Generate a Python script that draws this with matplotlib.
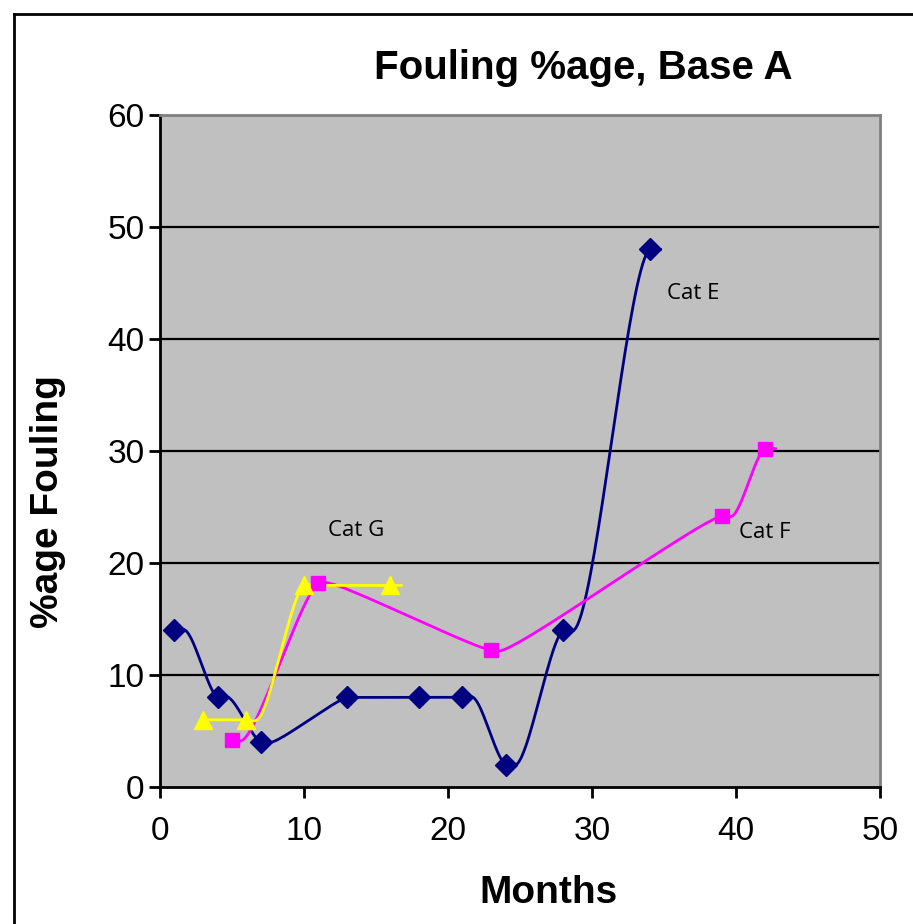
import numpy as np
import matplotlib
matplotlib.use("Agg")
import matplotlib.pyplot as plt
from matplotlib.lines import Line2D

# ---- data ----
cat_e_x = [1, 4, 7, 13, 18, 21, 24, 28, 34]
cat_e_y = [14, 8, 4, 8, 8, 8, 2, 14, 48]
cat_f_x = [5, 11, 23, 39, 42]
cat_f_y = [4.2, 18.2, 12.2, 24.2, 30.2]
cat_g_x = [3, 6, 10, 16]
cat_g_y = [6, 6, 18, 18]

title = "Fouling %age, Base A"
xlabel = "Months"
ylabel = "%age Fouling"
xticks = [0, 10, 20, 30, 40, 50]
yticks = [0, 10, 20, 30, 40, 50, 60]

LINE_OFFSET = 0.75  # line nodes duplicated slightly to the right (as in the original)

W, H = 913, 924
XS, YS = 720 / 50, 672 / 60  # pixels per unit, for isotropic parameterisation


def smooth(xs, ys, n=40):
    nx, ny = [], []
    for x, y in zip(xs, ys):
        nx += [x, x + LINE_OFFSET]
        ny += [y, y]
    P = np.column_stack([np.array(nx) * XS, np.array(ny) * YS]).astype(float)
    P = np.vstack([2 * P[0] - P[1], P, 2 * P[-1] - P[-2]])
    out = []
    for i in range(1, len(P) - 2):
        p0, p1, p2, p3 = P[i - 1], P[i], P[i + 1], P[i + 2]
        a = 0.5
        t0 = 0.0
        t1 = t0 + max(np.linalg.norm(p1 - p0), 1e-6) ** a
        t2 = t1 + max(np.linalg.norm(p2 - p1), 1e-6) ** a
        t3 = t2 + max(np.linalg.norm(p3 - p2), 1e-6) ** a
        t = np.linspace(t1, t2, n)[:, None]
        A1 = (t1 - t) / (t1 - t0) * p0 + (t - t0) / (t1 - t0) * p1
        A2 = (t2 - t) / (t2 - t1) * p1 + (t - t1) / (t2 - t1) * p2
        A3 = (t3 - t) / (t3 - t2) * p2 + (t - t2) / (t3 - t2) * p3
        B1 = (t2 - t) / (t2 - t0) * A1 + (t - t0) / (t2 - t0) * A2
        B2 = (t3 - t) / (t3 - t1) * A2 + (t - t1) / (t3 - t1) * A3
        C = (t2 - t) / (t2 - t1) * B1 + (t - t1) / (t2 - t1) * B2
        out.append(C)
    c = np.vstack(out)
    return c[:, 0] / XS, c[:, 1] / YS


fig = plt.figure(figsize=(W / 100, H / 100), dpi=100)
fig.patch.set_facecolor("white")

ax = fig.add_axes([160 / W, 1 - 787 / H, 720 / W, 672 / H])
ax.set_facecolor("#C0C0C0")
ax.set_xlim(0, 50)
ax.set_ylim(0, 60)

for y in yticks[1:-1]:
    ax.axhline(y, color="black", lw=1.6, zorder=1)

series = [
    (cat_e_x, cat_e_y, "#000080", "D", 11),
    (cat_f_x, cat_f_y, "#FF00FF", "s", 10.5),
    (cat_g_x, cat_g_y, "#FFFF00", "^", 13),
]
for xs, ys, col, mk, ms in series:
    sx, sy = smooth(xs, ys)
    ax.plot(sx, sy, color=col, lw=2, zorder=3, clip_on=False)
for xs, ys, col, mk, ms in series:
    ax.plot(xs, ys, linestyle="none", marker=mk, color=col, markersize=ms,
            markeredgecolor=col, zorder=4, clip_on=False)

for s in ["top", "right"]:
    ax.spines[s].set_color("#808080")
    ax.spines[s].set_linewidth(2)
for s in ["left", "bottom"]:
    ax.spines[s].set_color("black")
    ax.spines[s].set_linewidth(2)

fam = ["Liberation Sans", "DejaVu Sans"]
ax.set_xticks(xticks)
ax.set_yticks(yticks)
ax.tick_params(axis="both", direction="out", length=8, width=2, color="black",
               labelsize=24)
ax.tick_params(axis="x", pad=13)
ax.tick_params(axis="y", pad=3)
for lab in ax.get_xticklabels() + ax.get_yticklabels():
    lab.set_family(fam)

fig.text(548 / W, 1 - 893 / H, xlabel, fontsize=28, fontweight="bold", family=fam,
         ha="center", va="center")
fig.text(48 / W, 1 - 502 / H, ylabel, fontsize=28, fontweight="bold", family=fam,
         ha="center", va="center", rotation=90)
fig.text(583 / W, 1 - 68 / H, title, fontsize=29, fontweight="bold", family=fam,
         ha="center", va="center")

ann_font = ["Open Sans", "DejaVu Sans"]
ax.text(13.6, 22.9, "Cat G", fontsize=16, family=ann_font, ha="center", va="center")
ax.text(37.0, 44.1, "Cat E", fontsize=16, family=ann_font, ha="center", va="center")
ax.text(42.0, 22.7, "Cat F", fontsize=16, family=ann_font, ha="center", va="center")

# outer chart border (left and top visible)
fig.add_artist(Line2D([14 / W, 14 / W], [0, 1 - 14 / H], color="black", lw=2))
fig.add_artist(Line2D([14 / W, 1], [1 - 14 / H, 1 - 14 / H], color="black", lw=2))

fig.savefig("out.png", dpi=100)
